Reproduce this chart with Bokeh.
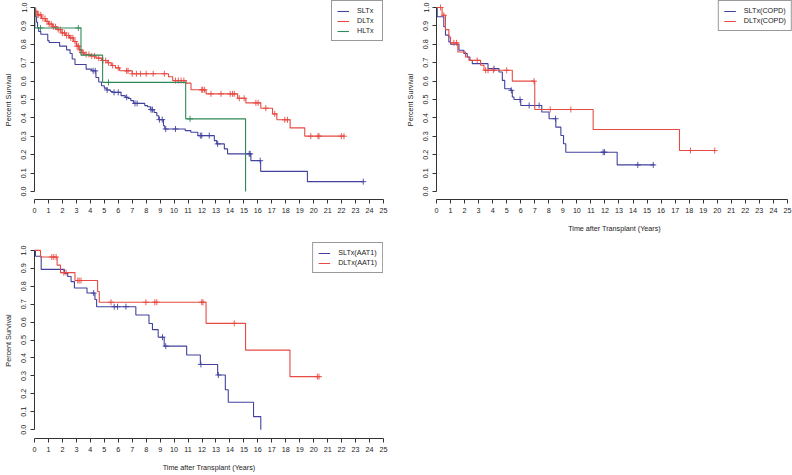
import numpy as np
from bokeh.plotting import figure
from bokeh.models import Range1d, FixedTicker, NumeralTickFormatter
from bokeh.layouts import column, row
from bokeh.embed import file_html
from bokeh.resources import INLINE

FONT = "Liberation Sans"
BLUE = "#42429e"
RED = "#e64a42"
GREEN = "#2f8a58"
TXT = "#222222"

x_ticks = list(range(0, 26))
y_ticks = [0.0, 0.1, 0.2, 0.3, 0.4, 0.5, 0.6, 0.7, 0.8, 0.9, 1.0]
x_label = "Time after Transplant (Years)"
y_label = "Percent Survival"

# ---- Panel 1: all recipients ----
sltx_t = [0, 0.02, 0.08, 0.15, 0.22, 0.3, 0.45, 0.95, 1.05, 1.8, 2.3, 2.55, 2.7, 2.9, 3.7, 4.1,
          4.4, 4.6, 4.8, 5.0, 5.2, 5.45, 5.6, 6.2, 6.5, 6.7, 6.9, 7.1, 7.9, 8.1, 8.3, 8.57,
          8.76, 8.9, 9.24, 9.33, 10.8, 11.2, 11.7, 12.88, 13.05, 13.6, 13.83, 15.5, 16.2, 19.55]
sltx_s = [1.0, 0.975, 0.95, 0.92, 0.89, 0.87, 0.855, 0.82, 0.81, 0.79, 0.77, 0.75, 0.72, 0.69, 0.665, 0.656,
          0.62, 0.595, 0.575, 0.562, 0.552, 0.544, 0.539, 0.521, 0.512, 0.506, 0.494, 0.479, 0.467, 0.461, 0.445, 0.43,
          0.412, 0.391, 0.358, 0.34, 0.331, 0.322, 0.304, 0.277, 0.259, 0.232, 0.205, 0.168, 0.11, 0.054]
sltx_end = 23.55
sltx_cens = [4.2, 4.35, 5.2, 5.7, 6.0, 6.6, 7.2, 7.35, 8.35, 8.45, 8.95, 9.15, 9.4, 10.1,
             11.88, 11.98, 12.52, 13.12, 15.38, 15.45, 16.17, 23.55]

dltx_t = [0, 0.05, 0.2, 0.5, 0.8, 1.0, 1.3, 1.6, 1.9, 2.2, 2.5, 2.8, 3.0, 3.2, 3.4, 3.6, 4.0, 4.4,
          4.8, 5.2, 5.5, 5.8, 6.1, 7.0, 9.6, 9.9, 10.86, 11.21, 12.29, 14.55, 15.14, 16.21, 17.05,
          17.36, 18.31, 19.36]
dltx_s = [1.0, 0.98, 0.96, 0.94, 0.925, 0.91, 0.895, 0.88, 0.862, 0.848, 0.835, 0.815, 0.79, 0.77, 0.755, 0.745, 0.737, 0.725,
          0.712, 0.70, 0.685, 0.672, 0.656, 0.64, 0.624, 0.603, 0.589, 0.553, 0.531, 0.507, 0.482, 0.453, 0.422,
          0.39, 0.346, 0.301]
dltx_end = 22.2
dltx_cens = [0.1, 0.2, 0.3, 0.45, 0.6, 0.75, 0.9, 1.05, 1.2, 1.35, 1.5, 1.7, 1.85, 2.0, 2.15, 2.3, 2.45,
             2.6, 2.75, 2.9, 3.05, 3.15, 3.25, 3.4, 3.5, 3.7, 3.9, 4.1, 4.3, 4.6, 4.9, 5.1, 5.3, 5.6,
             6.0, 6.6, 6.7, 7.0, 7.3, 7.6, 8.0, 8.5, 9.3, 10.1, 10.3, 10.5, 10.7, 11.98, 12.05, 12.17,
             12.64, 13.36, 14.02, 14.19, 14.31, 14.67, 15.02, 15.86, 16.02, 16.57, 17.21, 17.93, 18.12,
             19.79, 20.31, 20.38, 21.98, 22.17]

hltx_t = [0, 0.03, 3.33, 4.88, 10.83, 15.12]
hltx_s = [1.0, 0.889, 0.741, 0.593, 0.395, 0.0]
hltx_end = 15.12
hltx_cens = [0.43, 3.14, 5.3, 11.14]

# ---- Panel 2: COPD ----
copd_s_t = [0, 0.05, 0.52, 0.64, 0.88, 1.0, 1.6, 1.95, 2.19, 2.38, 2.55, 3.67, 4.45, 4.69, 4.86,
            5.29, 5.4, 5.52, 6.0, 7.5, 8.02, 8.5, 8.86, 9.05, 9.21, 12.87]
copd_s_s = [1.0, 0.95, 0.895, 0.85, 0.813, 0.80, 0.768, 0.75, 0.731, 0.713, 0.695, 0.668, 0.65, 0.604, 0.559,
            0.55, 0.514, 0.50, 0.468, 0.432, 0.396, 0.35, 0.305, 0.26, 0.214, 0.145]
copd_s_end = 15.53
copd_s_cens = [4.1, 5.33, 5.95, 6.6, 7.31, 8.48, 11.87, 11.97, 14.34, 15.44]

copd_d_t = [0, 0.4, 0.64, 0.88, 1.0, 1.52, 2.07, 2.31, 3.14, 3.38, 5.4, 7.0, 11.16, 17.31]
copd_d_s = [1.0, 0.958, 0.88, 0.84, 0.808, 0.758, 0.731, 0.713, 0.686, 0.659, 0.6, 0.446, 0.337, 0.223]
copd_d_end = 19.86
copd_d_cens = [0.29, 0.52, 1.24, 1.43, 2.9, 3.5, 3.67, 4.05, 5.0, 6.95, 8.1, 9.57, 18.09, 19.82]

# ---- Panel 3: AAT1 ----
aat_s_t = [0, 0.07, 0.48, 2.14, 2.38, 2.62, 2.86, 3.76, 4.33, 4.45, 7.26, 8.2, 8.45, 8.86, 9.29,
           10.9, 11.88, 13.12, 13.67, 13.88, 15.69, 16.21]
aat_s_s = [1.0, 0.967, 0.894, 0.872, 0.854, 0.826, 0.79, 0.762, 0.726, 0.686, 0.64, 0.592, 0.558, 0.516, 0.466,
           0.417, 0.364, 0.305, 0.223, 0.153, 0.073, 0.0]
aat_s_end = 16.21
aat_s_cens = [4.24, 5.71, 5.95, 6.55, 9.17, 9.4, 11.92, 13.17]

aat_d_t = [0, 0.43, 1.62, 1.86, 2.9, 4.52, 4.64, 12.29, 15.12, 18.3]
aat_d_s = [1.0, 0.963, 0.918, 0.876, 0.832, 0.771, 0.711, 0.593, 0.444, 0.296]
aat_d_end = 20.4
aat_d_cens = [1.24, 1.38, 1.55, 2.1, 2.26, 3.1, 3.2, 3.33, 5.48, 7.98, 8.62, 8.76, 11.98, 12.07,
              14.31, 20.26, 20.38]


def km(p, t, s, end, cens, color, label):
    xs = list(t) + [end]
    ys = list(s) + [s[-1]]
    p.step(xs, ys, mode="after", line_color=color, line_width=1.1, legend_label=label)
    ta = np.array(t)
    sa = np.array(s)
    idx = np.searchsorted(ta, np.array(cens), side="right") - 1
    p.scatter(cens, sa[idx], marker="cross", size=6, line_color=color, line_width=0.9)


def style(p, xlabel):
    p.xaxis.ticker = FixedTicker(ticks=x_ticks, minor_ticks=[])
    p.yaxis.ticker = FixedTicker(ticks=y_ticks, minor_ticks=[])
    p.yaxis.formatter = NumeralTickFormatter(format="0.0")
    p.xaxis.bounds = (0, 25)
    p.yaxis.bounds = (0, 1)
    for ax in (p.xaxis[0], p.yaxis[0]):
        ax.major_tick_out = 4
        ax.major_tick_in = 0
        ax.minor_tick_line_color = None
        ax.axis_line_color = "#333333"
        ax.major_tick_line_color = "#333333"
        ax.major_label_text_font = FONT
        ax.major_label_text_font_size = "7.2px"
        ax.major_label_text_color = TXT
        ax.axis_label_text_font = FONT
        ax.axis_label_text_font_size = "7.2px"
        ax.axis_label_text_font_style = "normal"
        ax.axis_label_text_color = TXT
    p.xaxis.major_label_standoff = 4
    p.yaxis.major_label_standoff = 4
    p.yaxis.major_label_orientation = "vertical"
    p.yaxis.axis_label = y_label
    p.yaxis.axis_label_standoff = 6
    if xlabel:
        p.xaxis.axis_label = xlabel
        p.xaxis.axis_label_standoff = 8
    p.xgrid.visible = False
    p.ygrid.visible = False
    p.outline_line_color = None
    lg = p.legend[0]
    lg.location = "top_right"
    lg.margin = 0
    lg.padding = 5
    lg.spacing = 1
    lg.label_text_font = FONT
    lg.label_text_font_size = "7.2px"
    lg.label_text_color = TXT
    lg.label_height = 8
    lg.glyph_height = 8
    lg.glyph_width = 12
    lg.label_standoff = 8
    lg.border_line_color = "#333333"
    lg.border_line_width = 1
    lg.background_fill_alpha = 1


# Top-left
p1 = figure(width=400, height=242, output_backend="svg", toolbar_location=None,
            x_range=Range1d(0, 25), y_range=Range1d(-0.043, 1.038),
            min_border_left=33, min_border_right=17, min_border_top=0, min_border_bottom=43)
km(p1, sltx_t, sltx_s, sltx_end, sltx_cens, BLUE, "SLTx")
km(p1, dltx_t, dltx_s, dltx_end, dltx_cens, RED, "DLTx")
km(p1, hltx_t, hltx_s, hltx_end, hltx_cens, GREEN, "HLTx")
style(p1, None)

# Top-right
p2 = figure(width=392, height=242, output_backend="svg", toolbar_location=None,
            x_range=Range1d(0, 25.36), y_range=Range1d(-0.043, 1.038),
            min_border_left=36, min_border_right=0, min_border_top=0, min_border_bottom=43)
km(p2, copd_s_t, copd_s_s, copd_s_end, copd_s_cens, BLUE, "SLTx(COPD)")
km(p2, copd_d_t, copd_d_s, copd_d_end, copd_d_cens, RED, "DLTx(COPD)")
style(p2, x_label)

# Bottom-left
p3 = figure(width=400, height=232, output_backend="svg", toolbar_location=None,
            x_range=Range1d(0, 25), y_range=Range1d(-0.049, 1.044),
            min_border_left=33, min_border_right=17, min_border_top=0, min_border_bottom=33)
km(p3, aat_s_t, aat_s_s, aat_s_end, aat_s_cens, BLUE, "SLTx(AAT1)")
km(p3, aat_d_t, aat_d_s, aat_d_end, aat_d_cens, RED, "DLTx(AAT1)")
style(p3, x_label)

layout = column(row(p1, p2, spacing=0), p3, spacing=0)
open("out.html", "w").write(file_html(layout, INLINE))
